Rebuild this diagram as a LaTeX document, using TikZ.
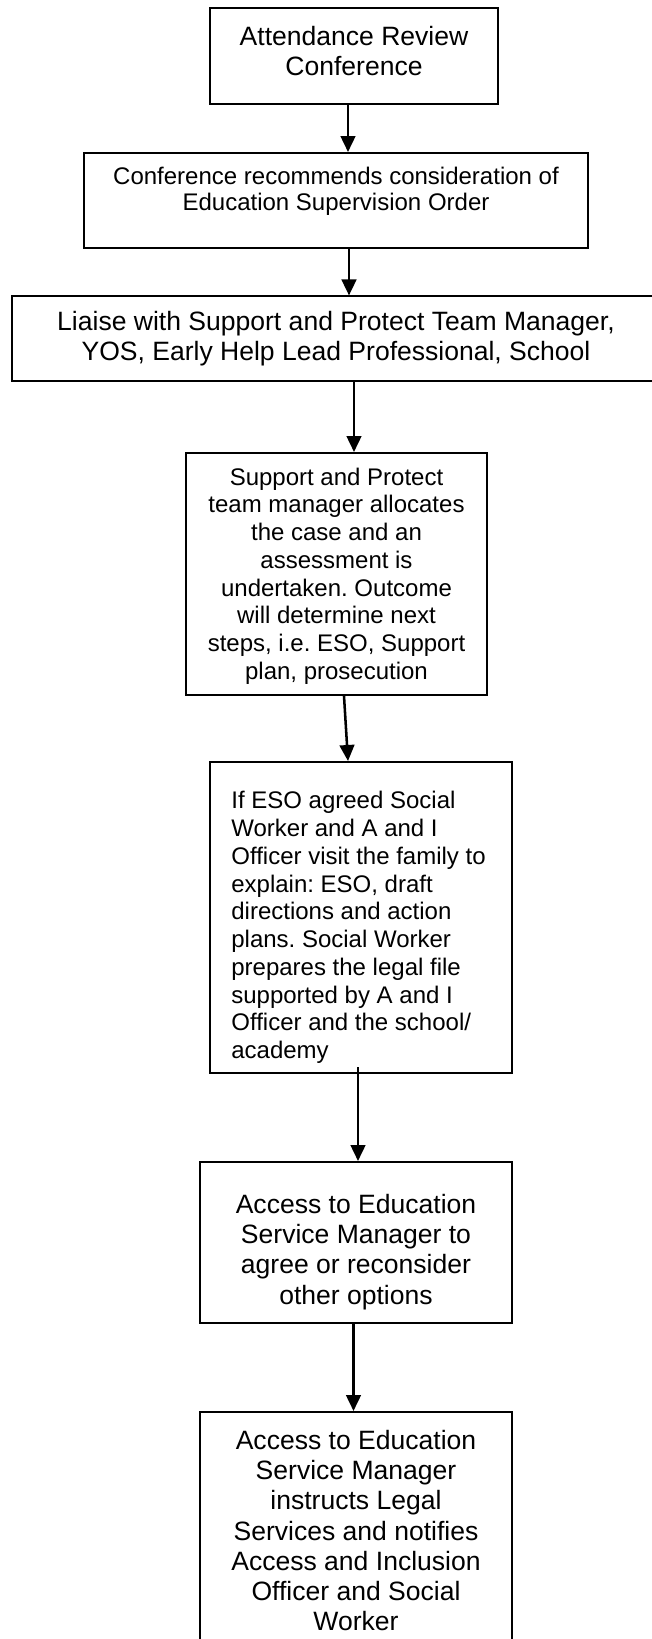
\documentclass[tikz,border=0pt]{standalone}
\usepackage{fontspec}
\setmainfont{Liberation Sans}
\usetikzlibrary{arrows.meta}
\frenchspacing
\begin{document}
\begin{tikzpicture}[x=0.75pt, y=-0.75pt]
	\def\px{0.75pt}
	
	\tikzstyle{box}=[draw, rectangle, line width=1.5pt, inner sep=0pt]
	\tikzstyle{big text}=[font=\fontsize{19.9}{22.6}\selectfont, align=center, inner sep=0pt]
	\tikzstyle{small text}=[font=\fontsize{18}{20.8}\selectfont, align=center, inner sep=0pt]
	\tikzstyle{flow}=[-{Triangle[length=12pt,width=11pt]}, line width=1.9pt]
	
	\useasboundingbox (0,0) rectangle (651,1639);
	
	% Draw the boxes, top to bottom
	\node[box, minimum width=288*\px, minimum height=96*\px,
		label={[big text, name=ard-t, yshift=5*\px]center:Attendance Review\\Conference}]
		(ard) at (354,56) {};
	\node[box, minimum width=504*\px, minimum height=95*\px,
		label={[small text, name=cro-t, yshift=9*\px, font=\fontsize{18}{19.5}\selectfont]center:Conference recommends consideration of\\Education Supervision Order}]
		(cro) at (336,200.5) {};
	\node[box, minimum width=648*\px, minimum height=84.5*\px,
		label={[big text, name=lia-t]center:Liaise with Support and Protect Team Manager,\\YOS, Early Help Lead Professional, School}]
		(lia) at (336,338.7) {};
	\node[box, minimum width=301*\px, minimum height=242*\px,
		label={[small text, name=spt-t, yshift=-2*\px]center:Support and Protect\\team manager allocates\\the case and an\\assessment is\\undertaken. Outcome\\will determine next\\steps, i.e. ESO, Support\\plan, prosecution}]
		(spt) at (336.5,574) {};
	\node[box, minimum width=302*\px, minimum height=311*\px,
		label={[small text, align=left, name=eso-t, xshift=-2.5*\px, yshift=-10*\px]center:If ESO agreed Social\\Worker and A and I\\Officer visit the family to\\explain: ESO, draft\\directions and action\\plans. Social Worker\\prepares the legal file\\supported by A and I\\Officer and the school/\\academy}]
		(eso) at (361,917.5) {};
	\node[box, minimum width=312*\px, minimum height=161*\px,
		label={[big text, name=mgr-t, yshift=-9.5*\px]center:Access to Education\\Service Manager to\\agree or reconsider\\other options}]
		(mgr) at (356,1242.5) {};
	\node[box, minimum width=312*\px, minimum height=248*\px,
		label={[big text, name=leg-t, yshift=5.5*\px]center:Access to Education\\Service Manager\\instructs Legal\\Services and notifies\\Access and Inclusion\\Officer and Social\\Worker}]
		(leg) at (356,1536) {};
	
	% Connect each box with the next one
	\draw[flow] ([xshift=-6*\px]ard.south) -- ([xshift=-6*\px]ard.south |- cro.north);
	\draw[flow] ([xshift=13*\px]cro.south) -- ([xshift=13*\px]cro.south |- lia.north);
	\draw[flow] ([xshift=18*\px]lia.south) -- ([xshift=18*\px]lia.south |- spt.north);
	\draw[flow] ([xshift=7.5*\px]spt.south) -- ([xshift=-13*\px]eso.north);
	\draw[flow] ([shift={(-3*\px,7*\px)}]eso.south) -- ([xshift=-3*\px]eso.south |- mgr.north);
	\draw[flow] ([xshift=-2.5*\px]mgr.south) -- ([xshift=-2.5*\px]mgr.south |- leg.north);
\end{tikzpicture}
\end{document}
